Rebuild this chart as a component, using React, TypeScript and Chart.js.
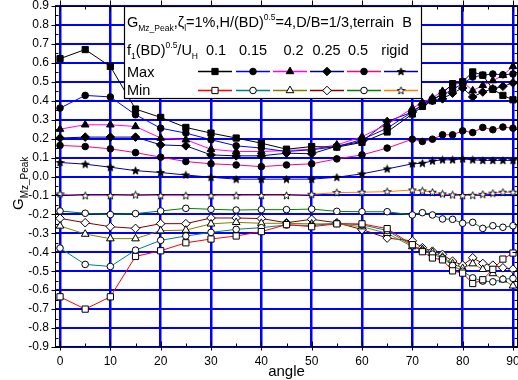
import React, { useEffect, useRef } from 'react';
import { Chart, registerables } from 'chart.js';
Chart.register(...registerables);

// ---- data ----
const angles = [0, 5, 10, 15, 20, 25, 30, 35, 40, 45, 50, 55, 60, 65, 70, 72, 74, 76, 78, 80, 82, 84, 86, 88, 90];

const max01 = [0.622, 0.670, 0.581, 0.356, 0.312, 0.259, 0.229, 0.203, 0.176, 0.144, 0.158, 0.155, 0.180, 0.235, 0.330, 0.370, 0.400, 0.440, 0.490, 0.500, 0.552, 0.535, 0.460, 0.428, 0.405];
const max015 = [0.361, 0.428, 0.420, 0.326, 0.255, 0.229, 0.194, 0.162, 0.150, 0.132, 0.141, 0.158, 0.195, 0.255, 0.340, 0.380, 0.410, 0.430, 0.460, 0.490, 0.525, 0.535, 0.541, 0.537, 0.541];
const max02 = [0.250, 0.273, 0.273, 0.264, 0.203, 0.194, 0.144, 0.132, 0.132, 0.137, 0.144, 0.167, 0.210, 0.275, 0.360, 0.390, 0.415, 0.450, 0.480, 0.500, 0.453, 0.481, 0.506, 0.534, 0.581];
const max025 = [0.203, 0.208, 0.208, 0.208, 0.167, 0.162, 0.114, 0.109, 0.109, 0.123, 0.120, 0.160, 0.185, 0.290, 0.340, 0.380, 0.400, 0.410, 0.440, 0.467, 0.420, 0.446, 0.463, 0.476, 0.494];
const max05 = [0.164, 0.158, 0.146, 0.126, 0.102, 0.079, 0.067, 0.061, 0.052, 0.061, 0.067, 0.093, 0.114, 0.150, 0.197, 0.185, 0.197, 0.220, 0.220, 0.241, 0.232, 0.259, 0.247, 0.261, 0.255];
const maxRigid = [0.074, 0.065, 0.049, 0.031, 0.021, 0.008, -0.004, -0.014, -0.014, -0.014, -0.014, -0.004, 0.014, 0.040, 0.067, 0.070, 0.082, 0.088, 0.088, 0.093, 0.088, 0.085, 0.085, 0.085, 0.085];

const min01 = [-0.635, -0.700, -0.635, -0.422, -0.392, -0.350, -0.330, -0.314, -0.291, -0.254, -0.265, -0.250, -0.250, -0.275, -0.360, -0.397, -0.430, -0.440, -0.498, -0.510, -0.565, -0.545, -0.490, -0.436, -0.404];
const min015 = [-0.378, -0.464, -0.475, -0.389, -0.337, -0.314, -0.295, -0.279, -0.270, -0.256, -0.258, -0.247, -0.255, -0.285, -0.365, -0.390, -0.410, -0.430, -0.470, -0.500, -0.535, -0.552, -0.556, -0.542, -0.538];
const min02 = [-0.261, -0.304, -0.328, -0.328, -0.286, -0.283, -0.250, -0.242, -0.247, -0.247, -0.250, -0.250, -0.265, -0.300, -0.370, -0.385, -0.400, -0.425, -0.460, -0.485, -0.460, -0.490, -0.512, -0.545, -0.577];
const min025 = [-0.221, -0.244, -0.265, -0.274, -0.249, -0.249, -0.219, -0.219, -0.222, -0.244, -0.226, -0.244, -0.280, -0.325, -0.340, -0.376, -0.394, -0.411, -0.447, -0.468, -0.429, -0.459, -0.468, -0.482, -0.489];
const min05 = [-0.182, -0.194, -0.201, -0.196, -0.182, -0.168, -0.173, -0.177, -0.175, -0.175, -0.172, -0.184, -0.186, -0.186, -0.203, -0.191, -0.203, -0.224, -0.226, -0.247, -0.242, -0.274, -0.260, -0.268, -0.260];
const minRigid = [-0.092, -0.101, -0.101, -0.097, -0.101, -0.101, -0.101, -0.101, -0.100, -0.100, -0.094, -0.085, -0.083, -0.080, -0.071, -0.076, -0.083, -0.092, -0.097, -0.101, -0.099, -0.094, -0.088, -0.083, -0.083];

const freqLabels = ['0.1', '0.15', '0.2', '0.25', '0.5', 'rigid'];
const maxSeries = [max01, max015, max02, max025, max05, maxRigid];
const minSeries = [min01, min015, min02, min025, min05, minRigid];
const xTicks = [0, 10, 20, 30, 40, 50, 60, 70, 80, 90];
const yTicks = [-9, -8, -7, -6, -5, -4, -3, -2, -1, 0, 1, 2, 3, 4, 5, 6, 7, 8, 9].map((v) => v / 10);

// ---- styles ----
const maxColors = ['#000000', '#0000FF', '#FF00FF', '#000080', '#FF0080', '#0000A0'];
const minColors = ['#FF0000', '#008080', '#808000', '#800000', '#008000', '#FF8000'];
const markerStyles = ['rect', 'circle', 'triangle', 'rectRot', 'circle', 'star'];
const markerRadius = [4.4, 3.3, 4.4, 4.3, 3.3, 4];
const FONT = '"Liberation Sans", Arial, sans-serif';

function makeStar(filled: boolean) {
  const c = document.createElement('canvas');
  c.width = 9;
  c.height = 9;
  const g = c.getContext('2d')!;
  g.beginPath();
  for (let i = 0; i < 10; i++) {
    const r = i % 2 === 0 ? 4.0 : 1.7;
    const a = -Math.PI / 2 + (i * Math.PI) / 5;
    const x = 4.5 + r * Math.cos(a);
    const y = 4.8 + r * Math.sin(a);
    if (i === 0) g.moveTo(x, y);
    else g.lineTo(x, y);
  }
  g.closePath();
  g.fillStyle = filled ? '#000' : '#fff';
  g.fill();
  g.strokeStyle = '#000';
  g.lineWidth = 0.9;
  g.stroke();
  return c;
}

function drawMarker(ctx: CanvasRenderingContext2D, style: string, x: number, y: number, r: number, filled: boolean, star: HTMLCanvasElement) {
  ctx.save();
  if (style === 'star') {
    ctx.drawImage(star, x - star.width / 2, y - star.height / 2);
    ctx.restore();
    return;
  }
  ctx.fillStyle = filled ? '#000' : '#fff';
  ctx.strokeStyle = '#000';
  ctx.lineWidth = 1;
  ctx.beginPath();
  if (style === 'rect') {
    const s = r * Math.SQRT1_2;
    ctx.rect(x - s, y - s, 2 * s, 2 * s);
  } else if (style === 'circle') {
    ctx.arc(x, y, r, 0, Math.PI * 2);
  } else if (style === 'triangle') {
    let rad = 0;
    ctx.moveTo(x + Math.sin(rad) * r, y - Math.cos(rad) * r);
    rad += (2 * Math.PI) / 3;
    ctx.lineTo(x + Math.sin(rad) * r, y - Math.cos(rad) * r);
    rad += (2 * Math.PI) / 3;
    ctx.lineTo(x + Math.sin(rad) * r, y - Math.cos(rad) * r);
    ctx.closePath();
  } else if (style === 'rectRot') {
    ctx.moveTo(x - r, y);
    ctx.lineTo(x, y - r);
    ctx.lineTo(x + r, y);
    ctx.lineTo(x, y + r);
    ctx.closePath();
  }
  ctx.fill();
  ctx.stroke();
  ctx.restore();
}

function drawRich(ctx: CanvasRenderingContext2D, parts: [string, number, number][], x: number, y: number) {
  let cx = x;
  for (const [t, size, dy] of parts) {
    ctx.font = `${size}px ${FONT}`;
    ctx.fillText(t, cx, y + dy);
    cx += ctx.measureText(t).width;
  }
}

export default function App() {
  const ref = useRef<HTMLCanvasElement>(null);

  useEffect(() => {
    const canvas = ref.current;
    if (!canvas) return;
    const starFilled = makeStar(true);
    const starOpen = makeStar(false);

    const datasets: any[] = [];
    for (let k = 0; k < 6; k++) {
      datasets.push({
        label: 'Max ' + freqLabels[k],
        data: angles.map((a, i) => ({ x: a, y: maxSeries[k][i] })),
        borderColor: maxColors[k],
        borderWidth: 1,
        pointStyle: markerStyles[k] === 'star' ? starFilled : markerStyles[k],
        pointRadius: markerRadius[k],
        pointBackgroundColor: '#000',
        pointBorderColor: '#000',
        pointBorderWidth: 1,
        tension: 0,
      });
    }
    for (let k = 0; k < 6; k++) {
      datasets.push({
        label: 'Min ' + freqLabels[k],
        data: angles.map((a, i) => ({ x: a, y: minSeries[k][i] })),
        borderColor: minColors[k],
        borderWidth: 1,
        pointStyle: markerStyles[k] === 'star' ? starOpen : markerStyles[k],
        pointRadius: markerRadius[k],
        pointBackgroundColor: '#fff',
        pointBorderColor: '#000',
        pointBorderWidth: 1,
        tension: 0,
      });
    }

    const decor = {
      id: 'decor',
      afterDatasetsDraw(chart: any) {
        const { ctx, chartArea: a, scales } = chart;
        const xs = scales.x;
        const ys = scales.y;
        ctx.save();
        ctx.strokeStyle = '#000';
        ctx.lineWidth = 1;
        // frame
        const L = Math.round(a.left) + 0.5;
        const T = Math.round(a.top) + 0.5;
        const R = Math.round(a.right) - 0.5;
        const B = Math.round(a.bottom) - 0.5;
        ctx.strokeRect(L, T, R - L, B - T);
        ctx.beginPath();
        // y ticks
        for (let i = 0; i < yTicks.length; i++) {
          const py = Math.round(ys.getPixelForValue(yTicks[i])) + 0.5;
          ctx.moveTo(L - 4, py); ctx.lineTo(L + 5, py);
          ctx.moveTo(R - 5, py); ctx.lineTo(R + 4, py);
          if (i < yTicks.length - 1) {
            const pm = Math.round(ys.getPixelForValue(yTicks[i] + 0.05)) + 0.5;
            ctx.moveTo(L, pm); ctx.lineTo(L + 3, pm);
            ctx.moveTo(R - 3, pm); ctx.lineTo(R, pm);
          }
        }
        // x ticks
        for (let i = 0; i < xTicks.length; i++) {
          const px = Math.round(xs.getPixelForValue(xTicks[i])) + 0.5;
          ctx.moveTo(px, B + 4); ctx.lineTo(px, B - 5);
          ctx.moveTo(px, T - 6); ctx.lineTo(px, T + 5);
          if (i < xTicks.length - 1) {
            const pm = Math.round(xs.getPixelForValue(xTicks[i] + 5)) + 0.5;
            ctx.moveTo(pm, B); ctx.lineTo(pm, B - 3);
            ctx.moveTo(pm, T); ctx.lineTo(pm, T + 3);
          }
        }
        ctx.stroke();

        // legend box
        const bx = 124.5, by = T, bw = 297, bh = 92;
        ctx.fillStyle = '#fff';
        ctx.fillRect(bx, by, bw, bh);
        ctx.strokeStyle = '#000';
        ctx.lineWidth = 1.2;
        ctx.strokeRect(bx, by, bw, bh);

        ctx.fillStyle = '#000';
        ctx.textAlign = 'left';
        ctx.textBaseline = 'alphabetic';
        drawRich(ctx, [
          ['G', 14.5, 0], ['Mz_Peak', 8.5, 4], [',ζ', 14.5, 0], ['l', 8.5, 4],
          ['=1%,H/(BD)', 14.5, 0], ['0.5', 8.5, -7], ['=4,D/B=1/3,terrain  B', 14.5, 0],
        ], 127, 27);
        drawRich(ctx, [
          ['f', 14.5, 0], ['1', 8.5, 4], ['(BD)', 14.5, 0], ['0.5', 8.5, -7], ['/U', 14.5, 0], ['H', 8.5, 4],
        ], 127, 55);
        ctx.font = `14.5px ${FONT}`;
        const labelX = [216, 253, 293.5, 326.5, 358, 395];
        ctx.textAlign = 'center';
        for (let k = 0; k < 6; k++) ctx.fillText(freqLabels[k], labelX[k], 55);
        ctx.textAlign = 'left';
        ctx.fillText('Max', 127, 77);
        ctx.fillText('Min', 127, 95);

        const sampleX = [215, 253, 290, 327, 364, 401];
        for (let k = 0; k < 6; k++) {
          const cx = sampleX[k];
          ctx.lineWidth = 1.3;
          ctx.strokeStyle = maxColors[k];
          ctx.beginPath(); ctx.moveTo(cx - 17, 71.5); ctx.lineTo(cx + 17, 71.5); ctx.stroke();
          drawMarker(ctx, markerStyles[k], cx, 71.5, markerRadius[k], true, starFilled);
          ctx.strokeStyle = minColors[k];
          ctx.beginPath(); ctx.moveTo(cx - 17, 90.5); ctx.lineTo(cx + 17, 90.5); ctx.stroke();
          drawMarker(ctx, markerStyles[k], cx, 90.5, markerRadius[k], false, starOpen);
        }

        // axis titles
        ctx.fillStyle = '#000';
        ctx.textAlign = 'center';
        ctx.font = `15px ${FONT}`;
        ctx.fillText('angle', (a.left + a.right) / 2, 376);
        ctx.save();
        ctx.translate(23, 210);
        ctx.rotate(-Math.PI / 2);
        ctx.textAlign = 'left';
        drawRich(ctx, [['G', 15, 0], ['Mz_Peak', 10, 5]], 0, 0);
        ctx.restore();
        ctx.restore();
      },
    };

    const chart = new Chart(canvas, {
      type: 'line',
      data: { datasets },
      options: {
        animation: false,
        responsive: false,
        devicePixelRatio: 1,
        layout: { autoPadding: false, padding: { top: 6, left: 0, right: 0, bottom: 0 } },
        plugins: { legend: { display: false }, tooltip: { enabled: false } },
        scales: {
          x: {
            type: 'linear',
            min: -1,
            max: 91,
            afterBuildTicks: (s: any) => { s.ticks = xTicks.map((v) => ({ value: v })); },
            afterFit: (s: any) => { s.height = 33; s.paddingLeft = 0; s.paddingRight = 0; },
            grid: { color: '#0000FF', lineWidth: 2.5, drawTicks: false },
            border: { display: false },
            ticks: { color: '#000', font: { size: 12, family: FONT }, padding: 7, maxRotation: 0, autoSkip: false },
          },
          y: {
            type: 'linear',
            min: -0.9,
            max: 0.9,
            afterBuildTicks: (s: any) => { s.ticks = yTicks.map((v) => ({ value: v })); },
            afterFit: (s: any) => { s.width = 55; s.paddingTop = 0; s.paddingBottom = 0; },
            grid: { color: '#0000FF', lineWidth: 2, drawTicks: false },
            border: { display: false },
            ticks: {
              color: '#000',
              font: { size: 12, family: FONT },
              padding: 6,
              autoSkip: false,
              callback: (v: any) => Number(v).toFixed(1),
            },
          },
        },
      },
      plugins: [decor],
    });
    return () => chart.destroy();
  }, []);

  return (
    <canvas
      ref={ref}
      width={518}
      height={380}
      style={{ position: 'absolute', left: 0, top: 0, width: 518, height: 380, background: '#fff' }}
    />
  );
}
